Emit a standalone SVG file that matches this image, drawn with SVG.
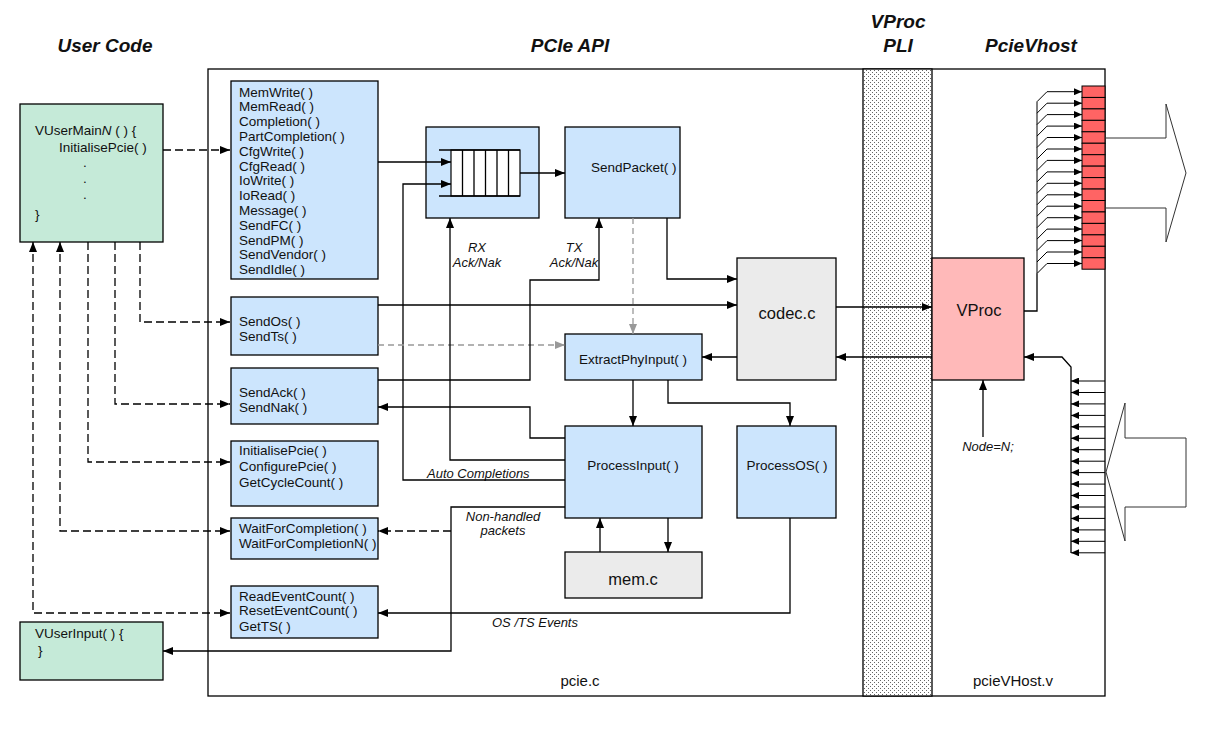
<svg xmlns="http://www.w3.org/2000/svg" width="1211" height="731" viewBox="0 0 1211 731">
<defs>
<style>
.t{font-family:"Liberation Sans",Arial,sans-serif;font-size:13.5px;fill:#111}
.ti{font-family:"Liberation Sans",Arial,sans-serif;font-size:13px;font-style:italic;fill:#111}
.title{font-family:"Liberation Sans",Arial,sans-serif;font-size:19px;font-weight:bold;font-style:italic;fill:#111}
.big{font-family:"Liberation Sans",Arial,sans-serif;font-size:16.5px;fill:#111}
.lbl{font-family:"Liberation Sans",Arial,sans-serif;font-size:15px;fill:#111}
.m{text-anchor:middle}
.box{stroke:#000;stroke-width:1.3}
.blue{fill:#cce5fd}
.green{fill:#c5ead8}
.gray{fill:#ebebeb}
.pink{fill:#ffb9b9}
.reg{fill:#ff6464;stroke:#000;stroke-width:1}
.c{fill:none;stroke:#000;stroke-width:1.3}
.cs{fill:none;stroke:#000;stroke-width:1}
.d{fill:none;stroke:#000;stroke-width:1.3;stroke-dasharray:8 4}
.g{fill:none;stroke:#999;stroke-width:1.3;stroke-dasharray:6 4}
.hol{fill:none;stroke:#333;stroke-width:1}
.a{marker-end:url(#ah)}
.as{marker-end:url(#ahs)}
.ag{marker-end:url(#ahg)}
.a2{marker-start:url(#ah);marker-end:url(#ah)}
</style>
<marker id="ah" markerUnits="userSpaceOnUse" markerWidth="10" markerHeight="8" viewBox="0 0 10 8" refX="10" refY="4" orient="auto-start-reverse"><path d="M0,0 L10,4 L0,8 z" fill="#000"/></marker>
<marker id="ahs" markerUnits="userSpaceOnUse" markerWidth="8" markerHeight="7" viewBox="0 0 8 7" refX="8" refY="3.5" orient="auto"><path d="M0,0 L8,3.5 L0,7 z" fill="#000"/></marker>
<marker id="ahg" markerUnits="userSpaceOnUse" markerWidth="10" markerHeight="8" viewBox="0 0 10 8" refX="10" refY="4" orient="auto"><path d="M0,0 L10,4 L0,8 z" fill="#999"/></marker>
<pattern id="dots" patternUnits="userSpaceOnUse" width="4" height="4"><rect width="4" height="4" fill="#fff"/><rect x="0" y="0" width="1" height="1" fill="#666"/><rect x="2" y="2" width="1" height="1" fill="#666"/></pattern>
</defs>
<rect width="1211" height="731" fill="#fff"/>

<g id="titles">
<text class="title m" x="105" y="52">User Code</text>
<text class="title m" x="570" y="52">PCIe API</text>
<text class="title m" x="898" y="28">VProc</text>
<text class="title m" x="898" y="52">PLI</text>
<text class="title m" x="1031" y="52">PcieVhost</text>
</g>

<g id="frame">
<rect x="208" y="69" width="897" height="627" fill="none" stroke="#000" stroke-width="1.3"/>
<rect x="863" y="69" width="69" height="627" fill="url(#dots)" stroke="#000" stroke-width="1.3"/>
<text class="lbl m" x="580" y="686">pcie.c</text>
<text class="lbl m" x="1013" y="686">pcieVHost.v</text>
</g>

<g id="vusermain">
<rect class="box green" x="20" y="104" width="143" height="138"/>
<text class="t" x="35" y="135">VUserMain<tspan font-style="italic">N</tspan> ( ) {</text>
<text class="t" x="59" y="152">InitialisePcie( )</text>
<text class="t" x="83" y="167">.</text>
<text class="t" x="83" y="183">.</text>
<text class="t" x="83" y="199">.</text>
<text class="t" x="35" y="219">}</text>
</g>

<g id="vuserinput">
<rect class="box green" x="20" y="622" width="143" height="58"/>
<text class="t" x="35" y="638">VUserInput( ) {</text>
<text class="t" x="38" y="655">}</text>
</g>

<g id="apilist">
<rect class="box blue" x="231" y="81" width="147" height="198"/>
<text class="t" x="239" y="96.5">MemWrite( )</text>
<text class="t" x="239" y="111.3">MemRead( )</text>
<text class="t" x="239" y="126.1">Completion( )</text>
<text class="t" x="239" y="140.9">PartCompletion( )</text>
<text class="t" x="239" y="155.7">CfgWrite( )</text>
<text class="t" x="239" y="170.5">CfgRead( )</text>
<text class="t" x="239" y="185.3">IoWrite( )</text>
<text class="t" x="239" y="200.1">IoRead( )</text>
<text class="t" x="239" y="214.9">Message( )</text>
<text class="t" x="239" y="229.7">SendFC( )</text>
<text class="t" x="239" y="244.5">SendPM( )</text>
<text class="t" x="239" y="259.3">SendVendor( )</text>
<text class="t" x="239" y="274.1">SendIdle( )</text>
</g>

<g id="sendos">
<rect class="box blue" x="231" y="297" width="147" height="58"/>
<text class="t" x="239" y="326">SendOs( )</text>
<text class="t" x="239" y="341">SendTs( )</text>
</g>

<g id="sendack">
<rect class="box blue" x="231" y="368" width="147" height="56"/>
<text class="t" x="239" y="397">SendAck( )</text>
<text class="t" x="239" y="412">SendNak( )</text>
</g>

<g id="initpcie">
<rect class="box blue" x="231" y="441" width="147" height="65"/>
<text class="t" x="239" y="455">InitialisePcie( )</text>
<text class="t" x="239" y="471">ConfigurePcie( )</text>
<text class="t" x="239" y="487">GetCycleCount( )</text>
</g>

<g id="waitcompl">
<rect class="box blue" x="231" y="518" width="147" height="41"/>
<text class="t" x="239" y="533">WaitForCompletion( )</text>
<text class="t" x="239" y="548">WaitForCompletionN( )</text>
</g>

<g id="eventcount">
<rect class="box blue" x="231" y="586" width="147" height="52"/>
<text class="t" x="239" y="601">ReadEventCount( )</text>
<text class="t" x="239" y="615">ResetEventCount( )</text>
<text class="t" x="239" y="631">GetTS( )</text>
</g>

<g id="queue">
<rect class="box blue" x="426" y="127" width="113" height="91"/>
<rect x="451" y="150" width="69" height="46" fill="#fff" stroke="#000" stroke-width="1.2"/>
<path class="c" d="M439,150 H520 M439,196 H520 M462.5,150 V196 M474,150 V196 M485.5,150 V196 M497,150 V196 M508.5,150 V196"/>
</g>

<g id="sendpacket">
<rect class="box blue" x="565" y="127" width="115" height="91"/>
<text class="t" x="591" y="172">SendPacket( )</text>
</g>

<g id="extractphy">
<rect class="box blue" x="565" y="334" width="137" height="46"/>
<text class="t m" x="633" y="364">ExtractPhyInput( )</text>
</g>

<g id="processinput">
<rect class="box blue" x="565" y="426" width="137" height="92"/>
<text class="t m" x="633" y="470">ProcessInput( )</text>
</g>

<g id="processos">
<rect class="box blue" x="737" y="426" width="99" height="92"/>
<text class="t m" x="787" y="470">ProcessOS( )</text>
</g>

<g id="memc">
<rect class="box gray" x="565" y="552" width="137" height="46"/>
<text class="big m" x="633" y="585">mem.c</text>
</g>

<g id="codec">
<rect class="box gray" x="737" y="258" width="99" height="122"/>
<text class="big m" x="787" y="319">codec.c</text>
</g>

<g id="vproc">
<rect class="box pink" x="932" y="258" width="92" height="122"/>
<text class="big m" x="979" y="316">VProc</text>
</g>

<g id="registers">
<rect class="reg" x="1082" y="86" width="23" height="11.45"/>
<rect class="reg" x="1082" y="97.45" width="23" height="11.45"/>
<rect class="reg" x="1082" y="108.9" width="23" height="11.45"/>
<rect class="reg" x="1082" y="120.35" width="23" height="11.45"/>
<rect class="reg" x="1082" y="131.8" width="23" height="11.45"/>
<rect class="reg" x="1082" y="143.25" width="23" height="11.45"/>
<rect class="reg" x="1082" y="154.7" width="23" height="11.45"/>
<rect class="reg" x="1082" y="166.15" width="23" height="11.45"/>
<rect class="reg" x="1082" y="177.6" width="23" height="11.45"/>
<rect class="reg" x="1082" y="189.05" width="23" height="11.45"/>
<rect class="reg" x="1082" y="200.5" width="23" height="11.45"/>
<rect class="reg" x="1082" y="211.95" width="23" height="11.45"/>
<rect class="reg" x="1082" y="223.4" width="23" height="11.45"/>
<rect class="reg" x="1082" y="234.85" width="23" height="11.45"/>
<rect class="reg" x="1082" y="246.3" width="23" height="11.45"/>
<rect class="reg" x="1082" y="257.75" width="23" height="11.45"/>
</g>

<g id="bigarrows">
<polyline class="hol" points="1105,138 1166,138 1166,104 1186,173 1166,242 1166,208 1105,208"/>
<polygon class="hol" points="1186,438 1125,438 1125,403 1106,472 1125,541 1125,507 1186,507"/>
</g>

<g id="labels">
<text class="ti m" x="477" y="252">RX</text>
<text class="ti m" x="477" y="267">Ack/Nak</text>
<text class="ti m" x="574" y="252">TX</text>
<text class="ti m" x="574" y="267">Ack/Nak</text>
<text class="ti" x="427" y="478">Auto Completions</text>
<text class="ti m" x="503" y="521">Non-handled</text>
<text class="ti m" x="503" y="535">packets</text>
<text class="ti m" x="535" y="627">OS /TS Events</text>
<text class="ti m" x="988" y="451">Node=N;</text>
</g>

<g id="connectors">
<path class="d a" d="M163,150 H230"/>
<path class="d a" d="M140,242 V322 H230"/>
<path class="d a" d="M115,242 V404 H230"/>
<path class="d a" d="M88,242 V462 H230"/>
<path class="d a2" d="M60,242 V531 H230"/>
<path class="d a2" d="M33,242 V613 H230"/>
<path class="c a" d="M378,162 H451"/>
<path class="c a" d="M565,480 H403 V184 H451"/>
<path class="c a" d="M520,173 H565"/>
<path class="c a" d="M667,218 V279 H737"/>
<path class="c a" d="M378,305 H737"/>
<path class="g ag" d="M633,218 V334"/>
<path class="g ag" d="M378,345 H565"/>
<path class="c a" d="M836,307 H932"/>
<path class="c a" d="M932,357 H836"/>
<path class="c a" d="M737,357 H702"/>
<path class="c a" d="M633,380 V426"/>
<path class="c a" d="M668,380 V403 H790 V426"/>
<path class="c a" d="M378,380 H530 V280 H599 V218"/>
<path class="c a" d="M565,438 H530 V407 H378"/>
<path class="c a" d="M565,460 H450 V218"/>
<path class="c a" d="M565,507 H451 V651 H163"/>
<path class="d a" d="M451,531 H378"/>
<path class="c a" d="M790,518 V613 H378"/>
<path class="c a" d="M600,552 V518"/>
<path class="c a" d="M668,518 V552"/>
<path class="c a" d="M983,437 V380"/>
<path class="c" d="M1024,311 H1037 V274"/>
<path class="cs" d="M1037,274 V101.7"/>
<path class="cs as" d="M1037,101.7 L1047,91.7 H1082"/>
<path class="cs as" d="M1037,113.2 L1047,103.2 H1082"/>
<path class="cs as" d="M1037,124.6 L1047,114.6 H1082"/>
<path class="cs as" d="M1037,136.1 L1047,126.1 H1082"/>
<path class="cs as" d="M1037,147.5 L1047,137.5 H1082"/>
<path class="cs as" d="M1037,159 L1047,149 H1082"/>
<path class="cs as" d="M1037,170.4 L1047,160.4 H1082"/>
<path class="cs as" d="M1037,181.9 L1047,171.9 H1082"/>
<path class="cs as" d="M1037,193.3 L1047,183.3 H1082"/>
<path class="cs as" d="M1037,204.8 L1047,194.8 H1082"/>
<path class="cs as" d="M1037,216.2 L1047,206.2 H1082"/>
<path class="cs as" d="M1037,227.7 L1047,217.7 H1082"/>
<path class="cs as" d="M1037,239.1 L1047,229.1 H1082"/>
<path class="cs as" d="M1037,250.6 L1047,240.6 H1082"/>
<path class="cs as" d="M1037,262 L1047,252 H1082"/>
<path class="cs as" d="M1037,273.5 L1047,263.5 H1082"/>
<path class="c a" d="M1071,553 V367 L1062,357 H1024"/>
<path class="cs as" d="M1105,381 H1071"/>
<path class="cs as" d="M1105,392.5 H1071"/>
<path class="cs as" d="M1105,403.9 H1071"/>
<path class="cs as" d="M1105,415.4 H1071"/>
<path class="cs as" d="M1105,426.8 H1071"/>
<path class="cs as" d="M1105,438.3 H1071"/>
<path class="cs as" d="M1105,449.7 H1071"/>
<path class="cs as" d="M1105,461.2 H1071"/>
<path class="cs as" d="M1105,472.6 H1071"/>
<path class="cs as" d="M1105,484.1 H1071"/>
<path class="cs as" d="M1105,495.5 H1071"/>
<path class="cs as" d="M1105,507 H1071"/>
<path class="cs as" d="M1105,518.4 H1071"/>
<path class="cs as" d="M1105,529.9 H1071"/>
<path class="cs as" d="M1105,541.3 H1071"/>
<path class="cs as" d="M1105,552.8 H1071"/>
</g>
</svg>
